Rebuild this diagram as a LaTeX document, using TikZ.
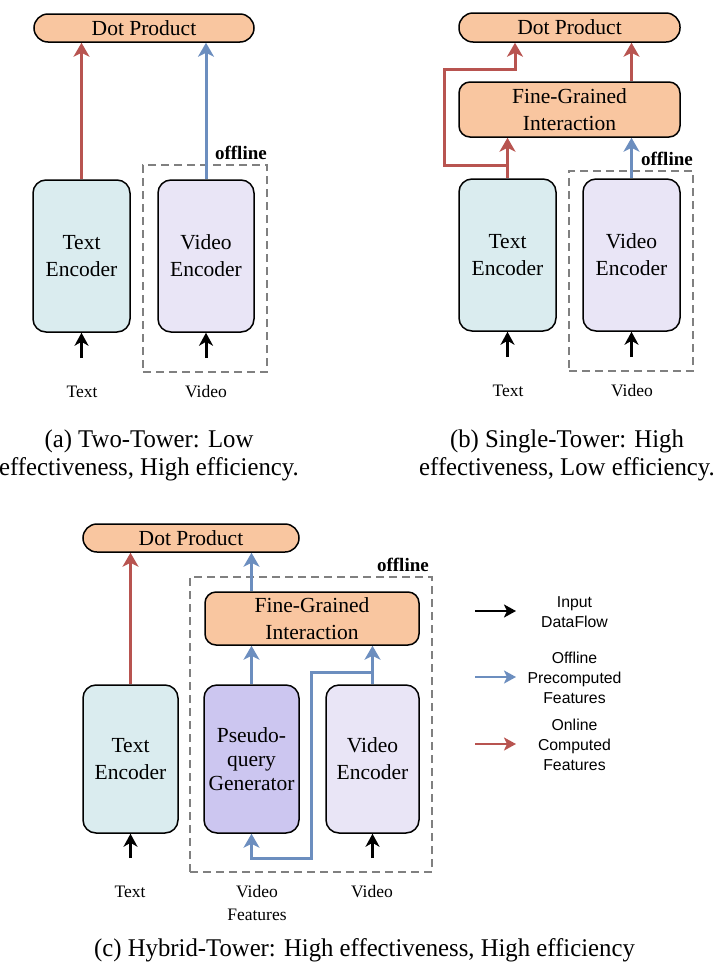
\documentclass[tikz,border=0pt]{standalone}
\usepackage{fontspec}
\setmainfont{Liberation Serif}
\newfontfamily\legfont{Liberation Sans}
\newfontfamily\capfont[FakeStretch=0.97]{Liberation Serif}
\usetikzlibrary{arrows.meta}
\definecolor{peach}{RGB}{249,198,160}
\definecolor{tcyan}{RGB}{218,236,239}
\definecolor{vlav}{RGB}{233,229,246}
\definecolor{plav}{RGB}{204,198,240}
\definecolor{ared}{RGB}{184,84,80}
\definecolor{ablue}{RGB}{108,142,191}
\definecolor{dgray}{RGB}{128,128,128}
\newcommand{\bxf}{\fontsize{21.5}{27}\selectfont}
\newcommand{\pqf}{\fontsize{21.5}{24}\selectfont}
\newcommand{\lbf}{\fontsize{17.5}{23}\selectfont}
\newcommand{\cpf}{\capfont\fontsize{25.5}{28}\selectfont}
\newcommand{\ofl}{\fontsize{19}{22}\selectfont\bfseries}
\newcommand{\lgf}{\legfont\fontsize{15.8}{20}\selectfont}
\begin{document}
\begin{tikzpicture}[x=1pt,y=-1pt,
  base/.style={draw=black,line width=1.5pt,inner sep=0pt,align=center,font=\bxf},
  capsule/.style={base,fill=peach,rounded corners=14pt},
  fgbox/.style={base,fill=peach,rounded corners=11pt},
  enc/.style={base,rounded corners=13pt},
  offbox/.style={draw=dgray,line width=2.2pt,dash pattern=on 8pt off 5pt},
  redarr/.style={draw=ared,line width=3pt,-{Stealth[length=14pt,width=16pt,inset=4pt]}},
  bluearr/.style={draw=ablue,line width=3pt,-{Stealth[length=14pt,width=16pt,inset=4pt]}},
  inarr/.style={draw=black,line width=3pt,-{Stealth[length=13pt,width=14pt,inset=4pt]}},
  legarr/.style={line width=2.2pt,-{Stealth[length=12pt,width=13pt,inset=3pt]}},
  lbl/.style={inner sep=0pt,align=center,font=\lbf},
  captxt/.style={inner sep=0pt,align=center,font=\cpf},
  offl/.style={inner sep=0pt,font=\ofl,anchor=base east},
  leg/.style={inner sep=0pt,align=center,font=\lgf}
]
\useasboundingbox (0,0) rectangle (716,967);

%% ---------- (a) ----------
\node[offbox,minimum width=124pt,minimum height=207pt,inner sep=0pt] (dashA) at (205,268.5) {};
\node[offl] (offA) at (267,159) {offline};
\node[capsule,minimum width=220pt,minimum height=28pt] (dpA) at (144,28) {Dot Product};
\node[enc,fill=tcyan,minimum width=97pt,minimum height=152pt] (teA) at (81.5,256) {Text\\Encoder};
\node[enc,fill=vlav,minimum width=96pt,minimum height=152pt] (veA) at (206,256) {Video\\Encoder};
\coordinate (inA1) at (81.5,358);
\coordinate (inA2) at (206,358);
\draw[redarr] (teA.north) -- (teA.north |- dpA.south);
\draw[bluearr] (veA.north) -- (veA.north |- dpA.south);
\draw[inarr] (inA1) -- (teA.south);
\draw[inarr] (inA2) -- (veA.south);
\node[lbl] (ltA) at (82,392) {Text};
\node[lbl] (lvA) at (206,392) {Video};
\node[captxt] (capA) at (149,455) {(a) Two-Tower: Low\\effectiveness, High efficiency.};

%% ---------- (b) ----------
\node[offbox,minimum width=124pt,minimum height=200pt,inner sep=0pt] (dashB) at (631,271) {};
\node[offl] (offB) at (693,165) {offline};
\node[capsule,minimum width=221pt,minimum height=29pt] (dpB) at (569.5,27.5) {Dot Product};
\node[fgbox,minimum width=221pt,minimum height=55pt] (fgB) at (569.5,109.5) {Fine-Grained\\Interaction};
\node[enc,fill=tcyan,minimum width=97pt,minimum height=152pt] (teB) at (507.5,255) {Text\\Encoder};
\node[enc,fill=vlav,minimum width=97pt,minimum height=152pt] (veB) at (631.5,255) {Video\\Encoder};
\coordinate (bj) at (507.5,165);
\coordinate (bl) at (444,69);
\coordinate (bt) at (515,0);
\draw[redarr] (teB.north) -- (teB.north |- fgB.south);
\draw[redarr] (bj) -| (bl) -| (bt |- dpB.south);
\draw[redarr] (veB.north |- fgB.north) -- (veB.north |- dpB.south);
\draw[bluearr] (veB.north) -- (veB.north |- fgB.south);
\coordinate (inB1) at (507.5,357);
\coordinate (inB2) at (631.5,357);
\draw[inarr] (inB1) -- (teB.south);
\draw[inarr] (inB2) -- (veB.south);
\node[lbl] (ltB) at (508,391) {Text};
\node[lbl] (lvB) at (632,391) {Video};
\node[captxt] (capB) at (567,455) {(b) Single-Tower: High\\effectiveness, Low efficiency.};

%% ---------- (c) ----------
\node[offbox,minimum width=242pt,minimum height=295pt,inner sep=0pt] (dashC) at (311,724.5) {};
\node[offl] (offC) at (429,571) {offline};
\node[capsule,minimum width=216pt,minimum height=28pt] (dpC) at (191,538) {Dot Product};
\node[fgbox,minimum width=214pt,minimum height=53pt] (fgC) at (312,618.5) {Fine-Grained\\Interaction};
\node[enc,fill=tcyan,minimum width=95pt,minimum height=148pt] (teC) at (130.5,759) {Text\\Encoder};
\node[enc,fill=plav,minimum width=95pt,minimum height=148pt,font=\pqf] (pqC) at (251.5,759) {Pseudo-\\query\\Generator};
\node[enc,fill=vlav,minimum width=93pt,minimum height=148pt] (veC) at (372.5,759) {Video\\Encoder};
\draw[redarr] (teC.north) -- (teC.north |- dpC.south);
\draw[bluearr] (pqC.north |- fgC.north) -- (pqC.north |- dpC.south);
\draw[bluearr] (pqC.north) -- (pqC.north |- fgC.south);
\draw[bluearr] (veC.north) -- (veC.north |- fgC.south);
\coordinate (cj) at (372.5,672);
\coordinate (cm) at (311,858);
\draw[bluearr] (cj) -| (cm) -| (pqC.south);
\coordinate (inC1) at (130.5,858);
\coordinate (inC2) at (372.5,858);
\draw[inarr] (inC1) -- (teC.south);
\draw[inarr] (inC2) -- (veC.south);
\node[lbl] (ltC) at (130,892) {Text};
\node[lbl] (lfC) at (257,903.5) {Video\\Features};
\node[lbl] (lvC) at (372,892) {Video};
\node[captxt] (capC) at (364.5,950) {(c) Hybrid-Tower: High effectiveness, High efficiency};

%% ---------- legend ----------
\coordinate (l1a) at (475,611); \coordinate (l1b) at (516,611);
\coordinate (l2a) at (475,677); \coordinate (l2b) at (516,677);
\coordinate (l3a) at (475,744); \coordinate (l3b) at (516,744);
\draw[legarr,draw=black] (l1a) -- (l1b);
\draw[legarr,draw=ablue] (l2a) -- (l2b);
\draw[legarr,draw=ared] (l3a) -- (l3b);
\node[leg] (lg1) at (574.5,612) {Input\\DataFlow};
\node[leg] (lg2) at (574.5,678) {Offline\\Precomputed\\Features};
\node[leg] (lg3) at (574.5,745) {Online\\Computed\\Features};
\end{tikzpicture}
\end{document}
